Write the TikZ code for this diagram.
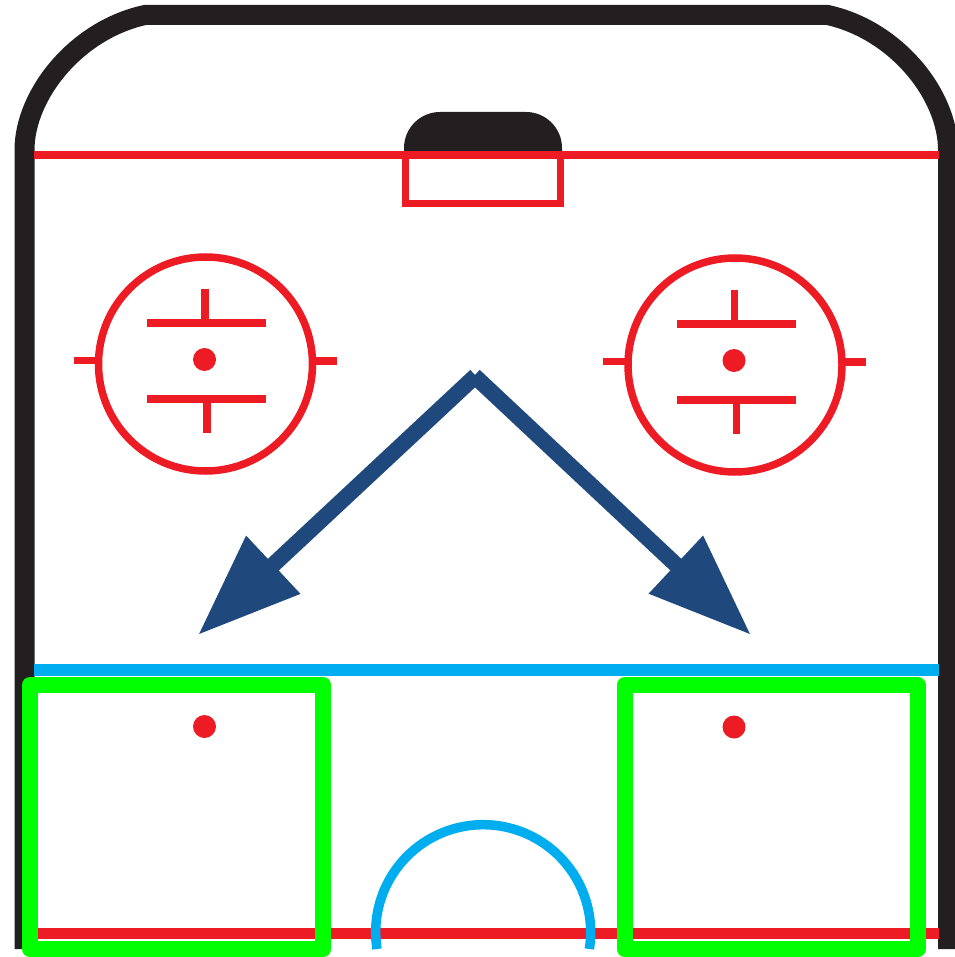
\documentclass[tikz,border=0pt]{standalone}
\usepackage{xcolor}
\usetikzlibrary{arrows.meta}

\definecolor{rinkred}{HTML}{ED1C24}
\definecolor{rinkblue}{HTML}{00AEEF}
\definecolor{boardblack}{HTML}{231F20}
\definecolor{arrowblue}{HTML}{1F497D}
\definecolor{zonegreen}{HTML}{00FF00}

\begin{document}
\begin{tikzpicture}[x=1pt, y=-1pt,
    board/.style={boardblack, line width=20pt},
    redmark/.style={rinkred, line width=7.5pt},
    movearrow/.style={arrowblue, line width=16pt, -{Triangle[length=103pt, width=75pt]}},
    zonebox/.style={zonegreen, line width=16pt, line join=round}]
  \useasboundingbox (0,0) rectangle (954,957);
  % boards, goal line and net
  \draw[board] (24.5,949) -- (24.5,150) .. controls (24.5,95) and (76,30) .. (145,15)
    -- (827.5,15) .. controls (896.5,30) and (948,95) .. (948,150) -- (948,949);
  \fill[boardblack] (404,155) -- (404,148) arc[start angle=180, end angle=270, radius=36]
    -- (526,112) arc[start angle=270, end angle=360, radius=36] -- (562,155) -- cycle;
  \draw[redmark] (34,155) -- (939,155);
  \draw[rinkred, line width=7pt] (405.5,155) -- (405.5,203.5) -- (560,203.5) -- (560,155);
  % faceoff circles
  \foreach \cx/\cy in {205.5/364, 735/365} {
    \begin{scope}[shift={(\cx,\cy)}]
      \draw[redmark] (0,0) circle (107);
      \fill[rinkred] (-1,-4.5) circle (11.5);
      \draw[redmark] (-132,-3.5) -- (-108,-3.5);
      \draw[redmark] (108,-3) -- (131,-3);
      \draw[redmark] (-58.5,-41) -- (60.5,-41);
      \draw[redmark] (-0.5,-75) -- (-0.5,-41);
      \draw[redmark] (-58.5,35) -- (60.5,35);
      \draw[redmark] (1.5,35) -- (1.5,69);
    \end{scope}
  }
  % blue line, goal line at the bottom, centre arc
  \draw[rinkblue, line width=12pt] (34,670) -- (939,670);
  \draw[rinkred, line width=11.5pt] (34,933.5) -- (939,933.5);
  \draw[rinkblue, line width=9.5pt] (377,949) arc[start angle=171, end angle=369, radius=107.5];
  \fill[rinkred] (204.5,726.5) circle (11.5);
  \fill[rinkred] (734,727) circle (11.5);
  % arrows
  \coordinate (tailleft) at (475.75,375.75);
  \coordinate (tailright) at (474.25,375.75);
  \coordinate (tipleft) at (198,635);
  \coordinate (tipright) at (751,635);
  \draw[movearrow] (tailleft) -- (tipleft);
  \draw[movearrow] (tailright) -- (tipright);
  % highlighted zones
  \draw[zonebox] (30,685) rectangle (323,949);
  \draw[zonebox] (624.5,685) rectangle (917.5,949);
\end{tikzpicture}
\end{document}
